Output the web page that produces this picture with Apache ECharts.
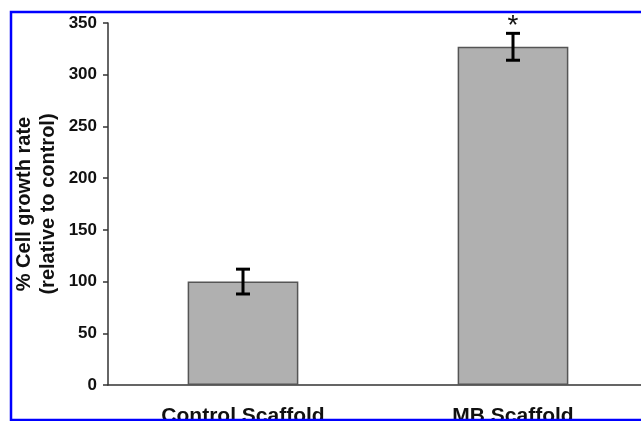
<!DOCTYPE html>
<html>
<head>
<meta charset="utf-8">
<script src="https://cdn.jsdelivr.net/npm/echarts@6/dist/echarts.min.js"></script>
<style>html,body{margin:0;padding:0;background:#fff;}#c{width:641px;height:421px;}</style>
</head>
<body>
<div id="c"></div>
<script>
var categories = ['Control Scaffold', 'MB Scaffold'];
var values = [100, 327];
var errors = [12, 13];
var marks = ['', '*'];
var yTicks = { min: 0, max: 350, interval: 50 };
var yTitle = '% Cell growth rate\n(relative to control)';

var chart = echarts.init(document.getElementById('c'), null, { renderer: 'canvas' });
var font = 'Liberation Sans, Arial, sans-serif';

var errData = categories.map(function (c, i) { return [i, values[i] - errors[i], values[i] + errors[i], marks[i]]; });

chart.setOption({
  animation: false,
  backgroundColor: '#fff',
  grid: { left: 108, width: 540, top: 23, bottom: 36, containLabel: false, outerBoundsMode: 'none' },
  xAxis: {
    type: 'category',
    data: categories,
    axisLine: { lineStyle: { color: '#333', width: 1.5 } },
    axisTick: { show: false },
    axisLabel: { color: '#111', fontFamily: font, fontWeight: 'bold', fontSize: 21, margin: 21 }
  },
  yAxis: {
    type: 'value',
    min: yTicks.min, max: yTicks.max, interval: yTicks.interval,
    name: yTitle,
    nameLocation: 'middle',
    nameRotate: 90,
    nameGap: 48,
    nameMoveOverlap: false,
    nameTextStyle: { color: '#111', fontFamily: font, fontWeight: 'bold', fontSize: 20, lineHeight: 24 },
    axisLine: { show: true, lineStyle: { color: '#333', width: 1.5 } },
    axisTick: { show: true, length: 5, lineStyle: { color: '#333', width: 1.5 } },
    axisLabel: { color: '#111', fontFamily: font, fontWeight: 'bold', fontSize: 17, margin: 11 },
    splitLine: { show: false }
  },
  series: [
    {
      type: 'bar',
      data: values,
      barWidth: '41%',
      itemStyle: { color: '#b0b0b0', borderColor: '#555', borderWidth: 1.5 },
      z: 2
    },
    {
      type: 'custom',
      data: errData,
      z: 5,
      renderItem: function (params, api) {
        var x = api.coord([api.value(0), 0])[0];
        var lo = api.coord([api.value(0), api.value(1)])[1];
        var hi = api.coord([api.value(0), api.value(2)])[1];
        var w = 7;
        var style = { stroke: '#000', lineWidth: 3 };
        var children = [
          { type: 'line', shape: { x1: x, y1: lo, x2: x, y2: hi }, style: style },
          { type: 'line', shape: { x1: x - w, y1: lo, x2: x + w, y2: lo }, style: style },
          { type: 'line', shape: { x1: x - w, y1: hi, x2: x + w, y2: hi }, style: style }
        ];
        var m = api.value(3);
        if (m) {
          children.push({ type: 'text', x: x, y: hi + 7, style: { text: m, fill: '#111', font: 'normal 28px ' + font, align: 'center', verticalAlign: 'bottom' } });
        }
        return { type: 'group', children: children };
      }
    }
  ],
  graphic: [
    { type: 'rect', z: 100, silent: true, shape: { x: 11, y: 12, width: 700, height: 408 }, style: { fill: 'none', stroke: '#0000ff', lineWidth: 2.5 } }
  ]
});
</script>
</body>
</html>
